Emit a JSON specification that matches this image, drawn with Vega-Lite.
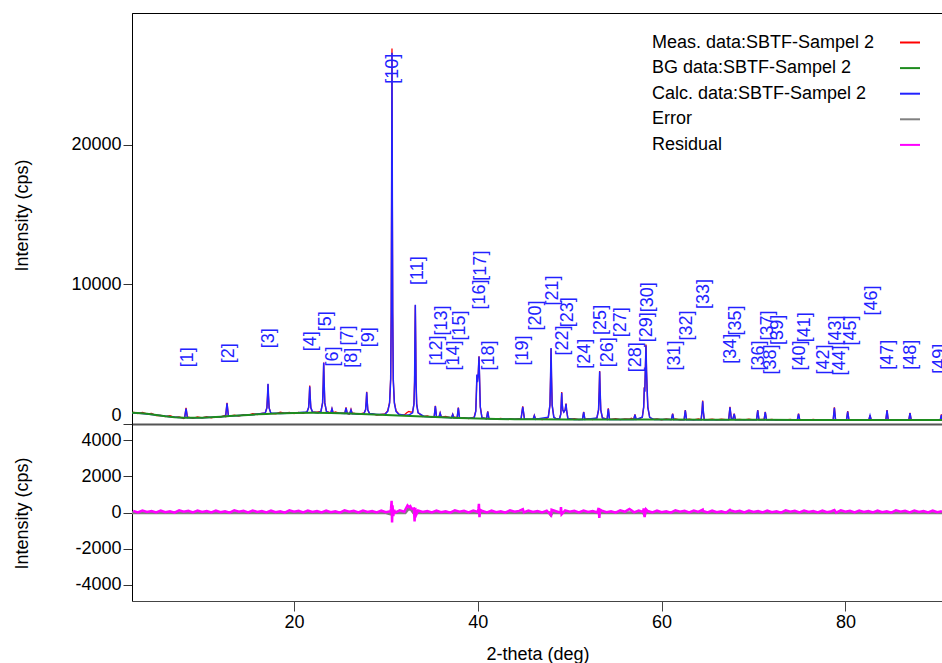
{
  "$schema": "https://vega.github.io/schema/vega-lite/v6.json",
  "background": "white",
  "padding": {"left": 12, "top": 12, "right": 0, "bottom": 0},
  "spacing": 0,
  "bounds": "flush",
  "config": {
    "font": "Liberation Sans",
    "view": {"stroke": null},
    "axis": {"labelFontSize": 18, "titleFontSize": 18, "labelColor": "#000", "titleColor": "#000", "titleFontWeight": "normal", "grid": false, "tickColor": "#333", "domainColor": "#000", "tickSize": 9, "labelPadding": 2}
  },
  "datasets": {
    "meas": [
      {"x":2.5,"y":845},{"x":3.0,"y":750},{"x":3.5,"y":830},{"x":4.0,"y":720},{"x":4.5,"y":750},{"x":5.0,"y":610},{"x":5.5,"y":620},{"x":6.0,"y":530},{"x":6.5,"y":595},{"x":7.0,"y":480},{"x":7.5,"y":510},{"x":8.0,"y":400},
      {"x":8.1,"y":460},{"x":8.25,"y":1150},{"x":8.4,"y":470},
      {"x":8.5,"y":485},{"x":9.0,"y":410},{"x":9.5,"y":515},{"x":10.0,"y":440},{"x":10.5,"y":525},{"x":11.0,"y":440},{"x":11.5,"y":520},{"x":12.0,"y":500},{"x":12.5,"y":625},
      {"x":12.56,"y":560},{"x":12.71,"y":1520},{"x":12.86,"y":580},
      {"x":13.0,"y":570},{"x":13.5,"y":640},{"x":14.0,"y":560},{"x":14.5,"y":670},{"x":15.0,"y":620},{"x":15.5,"y":740},{"x":16.0,"y":680},{"x":16.5,"y":765},
      {"x":16.87,"y":800},{"x":17.05,"y":1180},{"x":17.12,"y":2050},{"x":17.17,"y":2850},{"x":17.22,"y":2000},{"x":17.29,"y":1150},{"x":17.47,"y":800},
      {"x":17.5,"y":755},{"x":18.0,"y":730},{"x":18.5,"y":840},{"x":19.0,"y":770},{"x":19.5,"y":830},{"x":20.0,"y":740},{"x":20.5,"y":833},{"x":21.0,"y":765},
      {"x":21.41,"y":870},{"x":21.59,"y":1190},{"x":21.66,"y":1950},{"x":21.71,"y":2750},{"x":21.76,"y":1900},{"x":21.83,"y":1150},{"x":22.01,"y":860},
      {"x":22.5,"y":858},
      {"x":22.93,"y":910},{"x":23.11,"y":1530},{"x":23.18,"y":2900},{"x":23.23,"y":4400},{"x":23.28,"y":2900},{"x":23.35,"y":1500},{"x":23.53,"y":900},
      {"x":24.0,"y":800},{"x":24.13,"y":1100},{"x":24.26,"y":800},
      {"x":24.5,"y":860},{"x":25.0,"y":770},
      {"x":25.53,"y":770},{"x":25.66,"y":1200},{"x":25.79,"y":760},
      {"x":26.0,"y":700},
      {"x":26.07,"y":760},{"x":26.2,"y":1050},{"x":26.33,"y":750},
      {"x":26.5,"y":778},{"x":27.0,"y":695},{"x":27.5,"y":782},
      {"x":27.61,"y":760},{"x":27.79,"y":1030},{"x":27.86,"y":1670},{"x":27.91,"y":2300},{"x":27.96,"y":1650},{"x":28.03,"y":1000},{"x":28.21,"y":760},
      {"x":28.5,"y":747},{"x":29.0,"y":635},{"x":29.5,"y":682},
      {"x":29.9,"y":720},{"x":30.2,"y":950},{"x":30.4,"y":1550},{"x":30.52,"y":3300},{"x":30.58,"y":8200},{"x":30.62,"y":16300},{"x":30.66,"y":26900},{"x":30.7,"y":15800},{"x":30.74,"y":7900},{"x":30.8,"y":3150},{"x":30.92,"y":1550},{"x":31.1,"y":950},{"x":31.4,"y":720},
      {"x":31.5,"y":662},{"x":32.0,"y":650},{"x":32.3,"y":820},{"x":32.5,"y":900},{"x":32.7,"y":860},
      {"x":32.9,"y":850},{"x":33.05,"y":1450},{"x":33.12,"y":3100},{"x":33.16,"y":6100},{"x":33.2,"y":8500},{"x":33.24,"y":5900},{"x":33.28,"y":2950},{"x":33.35,"y":1400},{"x":33.5,"y":820},
      {"x":34.0,"y":530},{"x":34.5,"y":585},{"x":35.0,"y":470},
      {"x":35.25,"y":510},{"x":35.38,"y":1300},{"x":35.51,"y":500},
      {"x":35.77,"y":500},{"x":35.9,"y":800},{"x":36.03,"y":490},
      {"x":36.5,"y":548},{"x":37.0,"y":455},
      {"x":37.14,"y":460},{"x":37.27,"y":700},{"x":37.4,"y":450},
      {"x":37.5,"y":493},
      {"x":37.75,"y":450},{"x":37.88,"y":1180},{"x":38.01,"y":440},
      {"x":38.5,"y":460},{"x":39.0,"y":380},{"x":39.5,"y":470},
      {"x":39.6,"y":470},{"x":39.78,"y":950},{"x":39.86,"y":2550},{"x":39.9,"y":3500},{"x":39.96,"y":3050},{"x":40.05,"y":3650},{"x":40.13,"y":4850},{"x":40.2,"y":3000},{"x":40.27,"y":1250},{"x":40.45,"y":460},
      {"x":40.5,"y":442},
      {"x":40.95,"y":380},{"x":41.08,"y":900},{"x":41.21,"y":380},
      {"x":41.5,"y":380},{"x":42.0,"y":340},{"x":42.5,"y":400},{"x":43.0,"y":330},{"x":43.5,"y":390},{"x":44.0,"y":350},{"x":44.5,"y":380},
      {"x":44.7,"y":350},{"x":44.82,"y":920},{"x":44.89,"y":1260},{"x":44.96,"y":880},{"x":45.08,"y":350},
      {"x":45.5,"y":330},
      {"x":46.02,"y":345},{"x":46.15,"y":620},{"x":46.28,"y":340},
      {"x":46.5,"y":390},{"x":47.0,"y":320},{"x":47.5,"y":380},
      {"x":47.67,"y":500},{"x":47.85,"y":1380},{"x":47.92,"y":3450},{"x":47.97,"y":5400},{"x":48.02,"y":3350},{"x":48.09,"y":1350},{"x":48.27,"y":500},
      {"x":48.5,"y":360},
      {"x":48.9,"y":400},{"x":49.03,"y":720},{"x":49.08,"y":1500},{"x":49.13,"y":2300},{"x":49.18,"y":1450},{"x":49.25,"y":1000},{"x":49.36,"y":860},{"x":49.5,"y":1010},{"x":49.6,"y":1460},{"x":49.66,"y":990},{"x":49.8,"y":400},
      {"x":50.0,"y":340},{"x":50.5,"y":390},{"x":51.0,"y":320},
      {"x":51.39,"y":340},{"x":51.52,"y":870},{"x":51.65,"y":340},
      {"x":52.0,"y":380},{"x":52.5,"y":310},
      {"x":52.96,"y":440},{"x":53.14,"y":1030},{"x":53.21,"y":2420},{"x":53.26,"y":3800},{"x":53.31,"y":2350},{"x":53.38,"y":1000},{"x":53.56,"y":440},
      {"x":54.0,"y":360},
      {"x":54.07,"y":340},{"x":54.2,"y":1120},{"x":54.33,"y":340},
      {"x":54.5,"y":330},{"x":55.0,"y":390},{"x":55.5,"y":320},{"x":56.0,"y":370},{"x":56.5,"y":340},{"x":56.7,"y":420},
      {"x":56.97,"y":330},{"x":57.1,"y":680},{"x":57.23,"y":330},
      {"x":57.5,"y":350},
      {"x":57.9,"y":490},{"x":58.05,"y":1230},{"x":58.12,"y":2650},{"x":58.17,"y":2350},{"x":58.23,"y":3850},{"x":58.3,"y":5700},{"x":58.36,"y":3750},{"x":58.42,"y":2550},{"x":58.5,"y":1200},{"x":58.7,"y":490},
      {"x":59.0,"y":330},{"x":59.5,"y":370},{"x":60.0,"y":300},{"x":60.5,"y":360},{"x":61.0,"y":310},
      {"x":61.07,"y":320},{"x":61.2,"y":750},{"x":61.33,"y":320},
      {"x":61.5,"y":370},{"x":62.0,"y":300},
      {"x":62.45,"y":320},{"x":62.58,"y":1000},{"x":62.71,"y":320},
      {"x":63.0,"y":350},{"x":63.5,"y":300},{"x":64.0,"y":360},
      {"x":64.3,"y":320},{"x":64.4,"y":920},{"x":64.47,"y":1680},{"x":64.54,"y":880},{"x":64.64,"y":320},
      {"x":65.0,"y":310},{"x":65.5,"y":350},{"x":66.0,"y":290},{"x":66.5,"y":340},{"x":67.0,"y":310},
      {"x":67.3,"y":310},{"x":67.44,"y":1230},{"x":67.58,"y":410},{"x":67.77,"y":390},{"x":67.9,"y":750},{"x":68.03,"y":310},
      {"x":68.5,"y":330},{"x":69.0,"y":290},{"x":69.5,"y":340},{"x":70.0,"y":300},
      {"x":70.33,"y":310},{"x":70.46,"y":1000},{"x":70.59,"y":310},
      {"x":71.0,"y":330},
      {"x":71.15,"y":305},{"x":71.28,"y":870},{"x":71.41,"y":305},
      {"x":71.5,"y":290},{"x":72.0,"y":330},{"x":72.5,"y":280},{"x":73.0,"y":320},{"x":73.5,"y":290},{"x":74.0,"y":330},{"x":74.5,"y":280},
      {"x":74.77,"y":300},{"x":74.9,"y":750},{"x":75.03,"y":300},
      {"x":75.5,"y":320},{"x":76.0,"y":280},{"x":76.5,"y":330},{"x":77.0,"y":270},{"x":77.5,"y":320},{"x":78.0,"y":290},{"x":78.5,"y":310},
      {"x":78.67,"y":300},{"x":78.8,"y":1200},{"x":78.93,"y":300},
      {"x":79.0,"y":280},{"x":79.5,"y":320},{"x":80.0,"y":280},
      {"x":80.12,"y":300},{"x":80.25,"y":920},{"x":80.38,"y":300},
      {"x":80.5,"y":310},{"x":81.0,"y":270},{"x":81.5,"y":320},{"x":82.0,"y":280},{"x":82.5,"y":300},
      {"x":82.55,"y":290},{"x":82.68,"y":630},{"x":82.81,"y":290},
      {"x":83.0,"y":270},{"x":83.5,"y":310},{"x":84.0,"y":280},
      {"x":84.4,"y":290},{"x":84.53,"y":1000},{"x":84.66,"y":290},
      {"x":85.0,"y":300},{"x":85.5,"y":270},{"x":86.0,"y":310},{"x":86.5,"y":280},
      {"x":86.9,"y":290},{"x":87.03,"y":800},{"x":87.16,"y":290},
      {"x":87.5,"y":300},{"x":88.0,"y":270},{"x":88.5,"y":310},{"x":89.0,"y":280},{"x":89.5,"y":300},{"x":90.0,"y":270},
      {"x":90.32,"y":285},{"x":90.45,"y":680},{"x":90.58,"y":285}
    ],
    "calc": [
      {"x":2.37,"y":810},{"x":3.5,"y":760},{"x":5.0,"y":650},{"x":6.5,"y":515},{"x":7.5,"y":460},
      {"x":8.1,"y":450},{"x":8.25,"y":1110},{"x":8.4,"y":450},
      {"x":9.0,"y":440},{"x":10.0,"y":450},{"x":11.0,"y":480},{"x":12.0,"y":520},
      {"x":12.56,"y":550},{"x":12.71,"y":1490},{"x":12.86,"y":555},
      {"x":14.0,"y":610},{"x":15.5,"y":670},
      {"x":16.87,"y":790},{"x":17.05,"y":1156},{"x":17.12,"y":2018},{"x":17.17,"y":2880},{"x":17.22,"y":2018},{"x":17.29,"y":1156},{"x":17.47,"y":790},
      {"x":18.5,"y":760},{"x":20.0,"y":790},
      {"x":21.41,"y":854},{"x":21.59,"y":1174},{"x":21.66,"y":1927},{"x":21.71,"y":2680},{"x":21.76,"y":1927},{"x":21.83,"y":1174},{"x":22.01,"y":854},
      {"x":22.6,"y":798},
      {"x":22.93,"y":903},{"x":23.11,"y":1512},{"x":23.18,"y":2946},{"x":23.23,"y":4380},{"x":23.28,"y":2946},{"x":23.35,"y":1512},{"x":23.53,"y":903},
      {"x":23.8,"y":795},
      {"x":24.0,"y":790},{"x":24.13,"y":1090},{"x":24.26,"y":785},
      {"x":25.0,"y":770},
      {"x":25.53,"y":757},{"x":25.66,"y":1160},{"x":25.79,"y":755},
      {"x":26.07,"y":745},{"x":26.2,"y":1010},{"x":26.33,"y":740},
      {"x":27.0,"y":725},
      {"x":27.61,"y":749},{"x":27.79,"y":1018},{"x":27.86,"y":1649},{"x":27.91,"y":2280},{"x":27.96,"y":1649},{"x":28.03,"y":1018},{"x":28.21,"y":749},
      {"x":29.0,"y":675},
      {"x":29.9,"y":700},{"x":30.2,"y":900},{"x":30.4,"y":1500},{"x":30.52,"y":3200},{"x":30.58,"y":8000},{"x":30.62,"y":16000},{"x":30.66,"y":26600},{"x":30.7,"y":16000},{"x":30.74,"y":8000},{"x":30.8,"y":3200},{"x":30.92,"y":1500},{"x":31.1,"y":900},{"x":31.4,"y":700},
      {"x":32.0,"y":620},{"x":32.5,"y":640},
      {"x":32.9,"y":800},{"x":33.05,"y":1400},{"x":33.12,"y":3000},{"x":33.16,"y":6000},{"x":33.2,"y":8550},{"x":33.24,"y":6000},{"x":33.28,"y":3000},{"x":33.35,"y":1400},{"x":33.5,"y":800},
      {"x":34.2,"y":530},
      {"x":35.25,"y":497},{"x":35.38,"y":1275},{"x":35.51,"y":495},
      {"x":35.77,"y":482},{"x":35.9,"y":775},{"x":36.03,"y":478},
      {"x":36.8,"y":460},
      {"x":37.14,"y":448},{"x":37.27,"y":680},{"x":37.4,"y":440},
      {"x":37.75,"y":435},{"x":37.88,"y":1160},{"x":38.01,"y":430},
      {"x":39.0,"y":410},
      {"x":39.6,"y":450},{"x":39.78,"y":900},{"x":39.86,"y":2500},{"x":39.9,"y":3540},{"x":39.96,"y":3000},{"x":40.05,"y":3600},{"x":40.13,"y":4830},{"x":40.2,"y":3000},{"x":40.27,"y":1200},{"x":40.45,"y":450},
      {"x":40.95,"y":372},{"x":41.08,"y":890},{"x":41.21,"y":370},
      {"x":43.0,"y":350},
      {"x":44.7,"y":340},{"x":44.82,"y":900},{"x":44.89,"y":1230},{"x":44.96,"y":900},{"x":45.08,"y":340},
      {"x":46.02,"y":335},{"x":46.15,"y":600},{"x":46.28,"y":335},
      {"x":47.67,"y":487},{"x":47.85,"y":1356},{"x":47.92,"y":3403},{"x":47.97,"y":5450},{"x":48.02,"y":3403},{"x":48.09,"y":1356},{"x":48.27,"y":487},
      {"x":48.6,"y":340},
      {"x":48.9,"y":390},{"x":49.03,"y":710},{"x":49.08,"y":1470},{"x":49.13,"y":2230},{"x":49.18,"y":1470},{"x":49.25,"y":1000},{"x":49.36,"y":850},{"x":49.5,"y":1000},{"x":49.6,"y":1440},{"x":49.66,"y":1000},{"x":49.8,"y":390},
      {"x":50.5,"y":330},
      {"x":51.39,"y":330},{"x":51.52,"y":850},{"x":51.65,"y":330},
      {"x":52.96,"y":431},{"x":53.14,"y":1014},{"x":53.21,"y":2387},{"x":53.26,"y":3760},{"x":53.31,"y":2387},{"x":53.38,"y":1014},{"x":53.56,"y":431},
      {"x":54.07,"y":327},{"x":54.2,"y":1090},{"x":54.33,"y":327},
      {"x":56.97,"y":320},{"x":57.1,"y":660},{"x":57.23,"y":320},
      {"x":57.9,"y":480},{"x":58.05,"y":1200},{"x":58.12,"y":2600},{"x":58.17,"y":2300},{"x":58.23,"y":3800},{"x":58.3,"y":5620},{"x":58.36,"y":3800},{"x":58.42,"y":2600},{"x":58.5,"y":1200},{"x":58.7,"y":480},
      {"x":59.2,"y":318},
      {"x":61.07,"y":315},{"x":61.2,"y":730},{"x":61.33,"y":315},
      {"x":62.45,"y":313},{"x":62.58,"y":970},{"x":62.71,"y":313},
      {"x":64.3,"y":310},{"x":64.4,"y":900},{"x":64.47,"y":1630},{"x":64.54,"y":900},{"x":64.64,"y":310},
      {"x":67.3,"y":305},{"x":67.44,"y":1200},{"x":67.58,"y":400},{"x":67.77,"y":380},{"x":67.9,"y":730},{"x":68.03,"y":305},
      {"x":70.33,"y":300},{"x":70.46,"y":970},{"x":70.59,"y":300},
      {"x":71.15,"y":300},{"x":71.28,"y":850},{"x":71.41,"y":300},
      {"x":74.77,"y":295},{"x":74.9,"y":730},{"x":75.03,"y":295},
      {"x":78.67,"y":290},{"x":78.8,"y":1160},{"x":78.93,"y":290},
      {"x":80.12,"y":290},{"x":80.25,"y":890},{"x":80.38,"y":290},
      {"x":82.55,"y":285},{"x":82.68,"y":610},{"x":82.81,"y":285},
      {"x":84.4,"y":285},{"x":84.53,"y":970},{"x":84.66,"y":285},
      {"x":86.9,"y":282},{"x":87.03,"y":775},{"x":87.16,"y":282},
      {"x":90.32,"y":280},{"x":90.45,"y":650},{"x":90.58,"y":280},{"x":90.62,"y":280}
    ],
    "bg": [
      {"x":2.37,"y":810},{"x":3,"y":780},{"x":4,"y":730},{"x":5,"y":650},{"x":6,"y":550},{"x":7,"y":480},{"x":8,"y":450},{"x":9,"y":440},{"x":10,"y":450},{"x":11,"y":480},{"x":12,"y":520},{"x":13,"y":570},{"x":14,"y":610},{"x":15,"y":650},{"x":16,"y":690},{"x":17,"y":720},{"x":18,"y":750},{"x":19,"y":770},{"x":20,"y":790},{"x":22,"y":800},{"x":24,"y":790},{"x":26,"y":750},{"x":28,"y":700},{"x":30,"y":650},{"x":32,"y":600},{"x":34,"y":540},{"x":36,"y":480},{"x":38,"y":430},{"x":40,"y":390},{"x":42,"y":360},{"x":44,"y":345},{"x":46,"y":335},{"x":50,"y":330},{"x":55,"y":325},{"x":60,"y":315},{"x":65,"y":310},{"x":70,"y":300},{"x":75,"y":295},{"x":80,"y":290},{"x":85,"y":285},{"x":90.62,"y":280}
    ],
    "labels": [
      {"label":"[1]","x":8.43,"y":4066},{"label":"[2]","x":12.89,"y":4352},{"label":"[3]","x":17.31,"y":5426},{"label":"[4]","x":21.85,"y":5211},{"label":"[5]","x":23.48,"y":6643},{"label":"[6]","x":24.21,"y":4116},{"label":"[7]","x":25.91,"y":5619},{"label":"[8]","x":26.31,"y":4023},{"label":"[9]","x":28.13,"y":5497},{"label":"[10]","x":30.81,"y":24374},
      {"label":"[11]","x":33.46,"y":9964},{"label":"[12]","x":35.53,"y":4188},{"label":"[13]","x":36.07,"y":6335},{"label":"[14]","x":37.44,"y":3830},{"label":"[15]","x":38.1,"y":5977},{"label":"[16]","x":40.25,"y":8196},{"label":"[17]","x":40.3,"y":10272},{"label":"[18]","x":41.25,"y":3830},{"label":"[19]","x":44.92,"y":4188},{"label":"[20]","x":46.33,"y":6693},
      {"label":"[21]","x":48.15,"y":8483},{"label":"[22]","x":49.3,"y":4903},{"label":"[23]","x":49.78,"y":6929},{"label":"[24]","x":51.7,"y":3951},{"label":"[25]","x":53.41,"y":6385},{"label":"[26]","x":54.2,"y":4066},{"label":"[27]","x":55.58,"y":6213},{"label":"[28]","x":57.21,"y":3708},{"label":"[29]","x":58.38,"y":5855},{"label":"[30]","x":58.49,"y":8003},
      {"label":"[31]","x":61.46,"y":3830},{"label":"[32]","x":62.73,"y":5977},{"label":"[33]","x":64.58,"y":8246},{"label":"[34]","x":67.55,"y":4309},{"label":"[35]","x":68.1,"y":6335},{"label":"[36]","x":70.57,"y":3830},{"label":"[37]","x":71.55,"y":5977},{"label":"[38]","x":71.9,"y":3543},{"label":"[39]","x":72.63,"y":5669},{"label":"[40]","x":75.06,"y":3830},
      {"label":"[41]","x":75.6,"y":5855},{"label":"[42]","x":77.7,"y":3543},{"label":"[43]","x":78.98,"y":5619},{"label":"[44]","x":79.45,"y":3472},{"label":"[45]","x":80.61,"y":5619},{"label":"[46]","x":82.86,"y":7767},{"label":"[47]","x":84.67,"y":3880},{"label":"[48]","x":87.14,"y":3880},{"label":"[49]","x":90.33,"y":3593}
    ],
    "err": [
      {"x":2.37,"y":-20},{"x":30.0,"y":-20},{"x":30.6,"y":-90},{"x":30.7,"y":40},{"x":31.0,"y":-20},{"x":32.1,"y":-20},{"x":32.4,"y":180},{"x":32.7,"y":200},{"x":33.0,"y":-20},{"x":47.8,"y":-20},{"x":47.95,"y":-130},{"x":48.1,"y":-20},{"x":58.0,"y":-20},{"x":58.12,"y":-110},{"x":58.25,"y":-20},{"x":90.62,"y":-20}
    ],
    "resid": [
      {"x":2.5,"y":90},{"x":3.0,"y":10},{"x":3.5,"y":110},{"x":4.0,"y":30},{"x":4.5,"y":80},{"x":5.0,"y":0},{"x":5.5,"y":100},{"x":6.0,"y":20},{"x":6.5,"y":70},{"x":7.0,"y":-10},{"x":7.5,"y":120},{"x":8.0,"y":40},
      {"x":8.5,"y":90},{"x":9.0,"y":10},{"x":9.5,"y":110},{"x":10.0,"y":30},{"x":10.5,"y":80},{"x":11.0,"y":0},{"x":11.5,"y":100},{"x":12.0,"y":20},{"x":12.5,"y":70},{"x":13.0,"y":-10},{"x":13.5,"y":120},{"x":14.0,"y":40},
      {"x":14.5,"y":90},{"x":15.0,"y":10},{"x":15.5,"y":110},{"x":16.0,"y":30},{"x":16.5,"y":80},{"x":17.0,"y":0},{"x":17.5,"y":100},{"x":18.0,"y":20},{"x":18.5,"y":70},{"x":19.0,"y":-10},{"x":19.5,"y":120},{"x":20.0,"y":40},
      {"x":20.5,"y":90},{"x":21.0,"y":10},{"x":21.5,"y":110},{"x":22.0,"y":30},{"x":22.5,"y":80},{"x":23.0,"y":0},{"x":23.5,"y":100},{"x":24.0,"y":20},{"x":24.5,"y":70},{"x":25.0,"y":-10},{"x":25.5,"y":120},{"x":26.0,"y":40},
      {"x":26.5,"y":90},{"x":27.0,"y":10},{"x":27.5,"y":110},{"x":28.0,"y":30},{"x":28.5,"y":80},{"x":29.0,"y":0},{"x":29.5,"y":100},{"x":30.0,"y":20},{"x":30.5,"y":70},
      {"x":30.55,"y":200},{"x":30.62,"y":650},{"x":30.67,"y":-550},{"x":30.72,"y":400},{"x":30.8,"y":-200},{"x":30.9,"y":150},
      {"x":31.0,"y":-10},{"x":31.5,"y":120},{"x":32.0,"y":40},
      {"x":32.2,"y":250},{"x":32.35,"y":390},{"x":32.5,"y":300},{"x":32.65,"y":350},{"x":32.8,"y":200},
      {"x":33.05,"y":220},{"x":33.12,"y":-500},{"x":33.2,"y":250},{"x":33.28,"y":-150},
      {"x":33.5,"y":110},{"x":34.0,"y":30},{"x":34.5,"y":80},{"x":35.0,"y":0},{"x":35.5,"y":100},{"x":36.0,"y":20},{"x":36.5,"y":70},{"x":37.0,"y":-10},{"x":37.5,"y":120},{"x":38.0,"y":40},
      {"x":38.5,"y":90},{"x":39.0,"y":10},{"x":39.5,"y":110},{"x":40.0,"y":30},
      {"x":40.07,"y":200},{"x":40.12,"y":480},{"x":40.18,"y":-260},{"x":40.25,"y":150},
      {"x":40.5,"y":80},{"x":41.0,"y":0},{"x":41.5,"y":100},{"x":42.0,"y":20},{"x":42.5,"y":70},{"x":43.0,"y":-10},{"x":43.5,"y":120},{"x":44.0,"y":40},
      {"x":44.5,"y":90},{"x":44.9,"y":180},{"x":45.0,"y":10},{"x":45.5,"y":110},{"x":46.0,"y":30},{"x":46.5,"y":80},{"x":47.0,"y":0},{"x":47.5,"y":100},
      {"x":47.97,"y":-150},{"x":48.03,"y":150},
      {"x":48.5,"y":70},{"x":49.0,"y":-10},{"x":49.05,"y":300},{"x":49.12,"y":-100},{"x":49.5,"y":120},{"x":50.0,"y":40},
      {"x":50.5,"y":90},{"x":51.0,"y":10},{"x":51.5,"y":110},{"x":52.0,"y":30},{"x":52.5,"y":80},{"x":53.0,"y":0},
      {"x":53.15,"y":250},{"x":53.22,"y":-300},{"x":53.3,"y":150},
      {"x":53.5,"y":100},{"x":54.0,"y":20},{"x":54.5,"y":70},{"x":55.0,"y":-10},{"x":55.5,"y":120},{"x":56.0,"y":40},
      {"x":56.5,"y":200},{"x":57.0,"y":10},{"x":57.5,"y":110},{"x":58.0,"y":30},
      {"x":58.05,"y":230},{"x":58.15,"y":-250},{"x":58.3,"y":180},
      {"x":58.5,"y":80},{"x":59.0,"y":0},{"x":59.5,"y":100},{"x":60.0,"y":20},{"x":60.5,"y":70},{"x":61.0,"y":-10},{"x":61.5,"y":120},{"x":62.0,"y":40},
      {"x":62.5,"y":90},{"x":63.0,"y":10},{"x":63.5,"y":110},{"x":64.0,"y":30},{"x":64.47,"y":160},{"x":64.5,"y":80},{"x":65.0,"y":0},{"x":65.5,"y":100},{"x":66.0,"y":20},{"x":66.5,"y":70},{"x":67.0,"y":-10},{"x":67.44,"y":150},{"x":67.5,"y":120},{"x":68.0,"y":40},
      {"x":68.5,"y":90},{"x":69.0,"y":10},{"x":69.5,"y":110},{"x":70.0,"y":30},{"x":70.5,"y":80},{"x":71.0,"y":0},{"x":71.5,"y":100},{"x":72.0,"y":20},{"x":72.5,"y":70},{"x":73.0,"y":-10},{"x":73.5,"y":120},{"x":74.0,"y":40},
      {"x":74.5,"y":90},{"x":75.0,"y":10},{"x":75.5,"y":110},{"x":76.0,"y":30},{"x":76.5,"y":80},{"x":77.0,"y":0},{"x":77.5,"y":100},{"x":78.0,"y":20},{"x":78.5,"y":70},{"x":78.8,"y":140},{"x":79.0,"y":-10},{"x":79.5,"y":120},{"x":80.0,"y":40},
      {"x":80.5,"y":90},{"x":81.0,"y":10},{"x":81.5,"y":110},{"x":82.0,"y":30},{"x":82.5,"y":80},{"x":83.0,"y":0},{"x":83.5,"y":100},{"x":84.0,"y":20},{"x":84.5,"y":70},{"x":85.0,"y":-10},{"x":85.5,"y":120},{"x":86.0,"y":40},
      {"x":86.5,"y":90},{"x":87.0,"y":10},{"x":87.5,"y":110},{"x":88.0,"y":30},{"x":88.5,"y":80},{"x":89.0,"y":0},{"x":89.5,"y":100},{"x":90.0,"y":20},{"x":90.5,"y":70}
    ]
  },
  "resolve": {"scale": {"y": "independent", "color": "shared"}},
  "vconcat": [
    {
      "width": 811,
      "height": 411,
      "view": {"stroke": "#000", "strokeWidth": 1},
      "layer": [
        {
          "data": {"name": "meas"},
          "mark": {"type": "line", "strokeWidth": 1.3, "clip": true},
          "encoding": {
            "x": {"field": "x", "type": "quantitative", "scale": {"domain": [2.37, 90.62], "nice": false, "zero": false}, "axis": {"orient": "bottom", "labels": false, "ticks": false, "title": null, "domainColor": "#555", "domainWidth": 2}},
            "y": {"field": "y", "type": "quantitative", "scale": {"domain": [0, 29450], "nice": false, "zero": false}, "axis": {"values": [0, 10000, 20000], "labelExpr": "'' + datum.value", "labelFlush": true, "title": "Intensity (cps)", "titleX": -110, "titleY": 202, "titleAngle": 270, "titleAlign": "center", "titleBaseline": "middle"}},
            "color": {
              "datum": "Meas. data:SBTF-Sampel 2",
              "type": "nominal",
              "scale": {"domain": ["Meas. data:SBTF-Sampel 2", "BG data:SBTF-Sampel 2", "Calc. data:SBTF-Sampel 2", "Error", "Residual"], "range": ["#ff0000", "#1e8c1e", "#2222ff", "#808080", "#ff00ff"]},
              "legend": {"title": null, "orient": "none", "legendX": 767, "legendY": 18.5, "direction": "vertical", "symbolType": "stroke", "symbolSize": 400, "symbolStrokeWidth": 2, "labelFontSize": 18, "labelColor": "#000", "labelLimit": 400, "labelOffset": -269, "labelAlign": "left", "rowPadding": 5.6, "padding": 0}
            }
          }
        },
        {
          "data": {"name": "calc"},
          "mark": {"type": "line", "strokeWidth": 1.5, "clip": true},
          "encoding": {
            "x": {"field": "x", "type": "quantitative"},
            "y": {"field": "y", "type": "quantitative"},
            "color": {"datum": "Calc. data:SBTF-Sampel 2", "type": "nominal"}
          }
        },
        {
          "data": {"name": "bg"},
          "mark": {"type": "line", "strokeWidth": 2, "clip": true},
          "encoding": {
            "x": {"field": "x", "type": "quantitative"},
            "y": {"field": "y", "type": "quantitative"},
            "color": {"datum": "BG data:SBTF-Sampel 2", "type": "nominal"}
          }
        },
        {
          "data": {"name": "labels"},
          "mark": {"type": "text", "angle": 270, "align": "left", "baseline": "middle", "fontSize": 18, "color": "#2222ff", "clip": true},
          "encoding": {
            "x": {"field": "x", "type": "quantitative"},
            "y": {"field": "y", "type": "quantitative"},
            "text": {"field": "label", "type": "nominal"}
          }
        }
      ]
    },
    {
      "width": 811,
      "height": 177,
      "view": {"stroke": null},
      "layer": [
        {
          "data": {"name": "err"},
          "mark": {"type": "line", "strokeWidth": 3, "clip": true},
          "encoding": {
            "x": {"field": "x", "type": "quantitative", "scale": {"domain": [2.37, 90.62], "nice": false, "zero": false}, "axis": {"values": [20, 40, 60, 80], "title": "2-theta (deg)", "domainColor": "#444", "tickColor": "#444", "tickSize": 10, "titlePadding": 14}},
            "y": {"field": "y", "type": "quantitative", "scale": {"domain": [-4903, 4903], "nice": false, "zero": false}, "axis": {"values": [-4000, -2000, 0, 2000, 4000], "labelExpr": "'' + datum.value", "title": "Intensity (cps)", "titleX": -110, "titleY": 89, "titleAngle": 270, "titleAlign": "center", "titleBaseline": "middle"}},
            "color": {"datum": "Error", "type": "nominal"}
          }
        },
        {
          "data": {"name": "resid"},
          "mark": {"type": "line", "strokeWidth": 2.5, "clip": true},
          "encoding": {
            "x": {"field": "x", "type": "quantitative"},
            "y": {"field": "y", "type": "quantitative"},
            "color": {"datum": "Residual", "type": "nominal"}
          }
        }
      ]
    }
  ]
}
